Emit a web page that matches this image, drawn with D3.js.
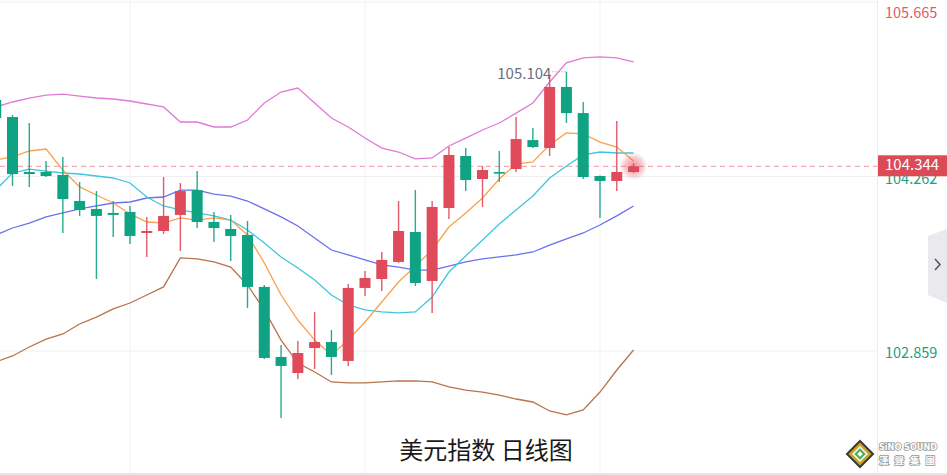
<!DOCTYPE html>
<html><head><meta charset="utf-8">
<script src="https://cdn.jsdelivr.net/npm/d3@7"></script>
<style>html,body{margin:0;padding:0;background:#fff;overflow:hidden}svg{display:block}</style>
</head><body><svg id="c" width="947" height="475"></svg>
<script>
// ---------- data (daily candles, index -8 .. 30) ----------
const days = d3.range(39);
const opens  = [104.877,104.740,104.298,104.298,104.274,104.065,104.001,103.969,103.977,103.808,103.824,103.953,104.153,103.896,103.840,103.792,103.374,102.811,102.682,102.883,102.931,102.779,103.366,103.438,103.575,103.816,103.422,104.009,104.427,104.242,104.298,104.322,104.555,104.491,104.982,104.772,104.266,104.226,104.298];
const highs  = [104.901,104.756,104.692,104.387,104.419,104.218,104.145,104.065,104.025,103.937,104.258,104.210,104.306,103.977,103.953,103.904,103.390,102.907,102.939,103.173,103.028,103.398,103.502,103.655,104.065,104.153,104.065,104.499,104.491,104.346,104.467,104.740,104.652,105.080,105.104,104.861,104.270,104.708,104.370];
const lows   = [104.700,104.186,104.178,104.258,103.808,103.945,103.438,103.776,103.719,103.615,103.800,103.663,103.848,103.735,103.583,103.205,102.795,102.320,102.634,102.714,102.666,102.739,103.301,103.341,103.567,103.382,103.165,103.921,104.145,104.017,104.218,104.298,104.491,104.427,104.692,104.242,103.929,104.145,104.290];
const closes = [104.732,104.282,104.282,104.266,104.081,103.993,103.945,103.953,103.784,103.824,103.945,104.145,103.896,103.848,103.784,103.374,102.803,102.739,102.843,102.931,102.811,103.366,103.446,103.591,103.824,103.406,104.017,104.435,104.234,104.314,104.290,104.563,104.499,104.982,104.772,104.258,104.226,104.298,104.344];
const bollUpper = [104.821,104.861,104.893,104.917,104.925,104.909,104.893,104.885,104.869,104.845,104.821,104.700,104.700,104.660,104.660,104.716,104.853,104.941,104.973,104.853,104.732,104.660,104.571,104.491,104.459,104.403,104.411,104.507,104.571,104.636,104.692,104.772,104.853,105.022,105.175,105.215,105.223,105.215,105.183];
const bollMid   = [103.792,103.848,103.888,103.937,103.969,104.001,104.025,104.049,104.057,104.089,104.097,104.153,104.153,104.121,104.105,104.065,104.001,103.937,103.864,103.768,103.671,103.631,103.591,103.551,103.534,103.510,103.510,103.542,103.575,103.599,103.615,103.631,103.655,103.711,103.760,103.808,103.872,103.945,104.025];
const bollLower = [102.771,102.819,102.891,102.955,102.996,103.076,103.132,103.197,103.245,103.309,103.374,103.607,103.599,103.575,103.534,103.390,103.189,102.947,102.762,102.690,102.610,102.602,102.602,102.610,102.618,102.618,102.610,102.570,102.545,102.529,102.505,102.473,102.449,102.377,102.345,102.385,102.529,102.706,102.867];
const ma5  = [104.395,104.419,104.467,104.483,104.314,104.178,104.113,104.049,103.961,103.896,103.888,103.929,103.912,103.929,103.912,103.792,103.567,103.309,103.108,102.947,102.827,102.947,103.092,103.253,103.414,103.542,103.671,103.856,103.969,104.089,104.242,104.362,104.379,104.515,104.612,104.604,104.539,104.499,104.387];
const ma10 = [104.153,104.290,104.322,104.306,104.290,104.282,104.266,104.250,104.210,104.097,104.025,103.993,103.969,103.945,103.912,103.832,103.727,103.615,103.526,103.430,103.309,103.229,103.189,103.173,103.165,103.173,103.293,103.494,103.623,103.751,103.880,103.993,104.105,104.250,104.346,104.435,104.459,104.451,104.451];
const axisTicks = [105.665, 104.262, 102.859];
const lastPrice = 104.344;
const peakLabel = "105.104";
const titleText = "美元指数 日线图";

// ---------- scales ----------
const W = 947, H = 475, plotRight = 877;
const x = d3.scaleLinear().domain([8, 22]).range([130, 365]);
const y = d3.scaleLinear().domain([102.859, 105.665]).range([351, 2]);
const svg = d3.select("#c");
const FONT = "'Noto Sans CJK SC','Noto Sans',sans-serif";
const RED = "#df4b5a", GREEN = "#0fa383";

// grid
const grid = svg.append("g");
[8, 22, 36].forEach(i => grid.append("line").attr("x1", x(i)).attr("x2", x(i)).attr("y1", 0).attr("y2", H)
  .attr("stroke", "#f2f2f5").attr("stroke-width", 1));
axisTicks.forEach(v => grid.append("line").attr("x1", 0).attr("x2", plotRight).attr("y1", y(v)).attr("y2", y(v))
  .attr("stroke", "#f0f0f3").attr("stroke-width", 1));
grid.append("line").attr("x1", plotRight + 0.5).attr("x2", plotRight + 0.5).attr("y1", 0).attr("y2", H)
  .attr("stroke", "#ebebf0");
grid.append("line").attr("x1", 0).attr("x2", W).attr("y1", 474).attr("y2", 474).attr("stroke", "#e6e6e6").attr("stroke-width", 2);

// last price dashed line
svg.append("line").attr("x1", 0).attr("x2", plotRight).attr("y1", y(lastPrice)).attr("y2", y(lastPrice))
  .attr("stroke", "#f3a9b0").attr("stroke-width", 1.2).attr("stroke-dasharray", "5,4");

// indicator lines
const lineGen = arr => d3.line().x((d, i) => x(i)).y(d => y(d))(arr);
const lines = [
  [bollUpper, "#e07ad6"], [bollLower, "#b8734a"], [bollMid, "#6a70f0"], [ma10, "#3ec6e0"], [ma5, "#f7a24f"]
];
lines.forEach(([arr, col]) => svg.append("path").attr("d", lineGen(arr)).attr("fill", "none")
  .attr("stroke", col).attr("stroke-width", 1.3));

// glow on last candle
const defs = svg.append("defs");
const rg = defs.append("radialGradient").attr("id", "glow");
rg.append("stop").attr("offset", "0%").attr("stop-color", "#e04b5a").attr("stop-opacity", 0.6);
rg.append("stop").attr("offset", "60%").attr("stop-color", "#e04b5a").attr("stop-opacity", 0.3);
rg.append("stop").attr("offset", "100%").attr("stop-color", "#e04b5a").attr("stop-opacity", 0);
svg.append("circle").attr("cx", x(38)).attr("cy", y(lastPrice)).attr("r", 14).attr("fill", "url(#glow)");

// candles
const cg = svg.append("g");
days.forEach(i => {
  const up = closes[i] >= opens[i];
  const col = up ? RED : GREEN;
  const cx = x(i);
  cg.append("line").attr("x1", cx).attr("x2", cx).attr("y1", y(highs[i])).attr("y2", y(lows[i]))
    .attr("stroke", col).attr("stroke-width", 1.4).attr("opacity", 0.9);
  const top = y(Math.max(opens[i], closes[i])), bot = y(Math.min(opens[i], closes[i]));
  cg.append("rect").attr("x", cx - 5.5).attr("width", 11).attr("y", top).attr("height", Math.max(1.6, bot - top))
    .attr("fill", col);
});

// peak label
const peakIdx = highs.indexOf(d3.max(highs));
svg.append("text").attr("x", x(peakIdx) - 15).attr("y", y(+peakLabel) + 3).attr("text-anchor", "end")
  .attr("dominant-baseline", "middle").attr("font-family", FONT).attr("font-size", 15).attr("fill", "#6b7080")
  .text(peakLabel);
svg.append("line").attr("x1", x(peakIdx) - 14).attr("x2", x(peakIdx)).attr("y1", y(+peakLabel)).attr("y2", y(+peakLabel))
  .attr("stroke", "#8a8e9a").attr("stroke-width", 1).attr("stroke-dasharray", "1,2");

// right axis labels
const tickCols = ["#e05a68", "#1aa086", "#1aa086"];
axisTicks.forEach((v, k) => svg.append("text").attr("x", 885).attr("y", Math.max(y(v) + 3.5, 14))
  .attr("dominant-baseline", "middle").attr("font-family", FONT).attr("font-size", 14.5)
  .attr("fill", tickCols[k]).text(v.toFixed(3)));

// last price box
svg.append("rect").attr("x", plotRight + 1).attr("y", y(lastPrice) - 11).attr("width", W - plotRight).attr("height", 21)
  .attr("fill", "#dc4a58");
svg.append("text").attr("x", 885).attr("y", y(lastPrice)).attr("dominant-baseline", "middle")
  .attr("font-family", FONT).attr("font-size", 15).attr("fill", "#fff").text(lastPrice.toFixed(3));

// side tab
svg.append("path").attr("d", "M947,229 L928,236 L928,295 L947,303 Z").attr("fill", "#e9e9ee");
svg.append("path").attr("d", "M935,259 L940,264.5 L935,270").attr("fill", "none").attr("stroke", "#555a66").attr("stroke-width", 1.6);

// title
svg.append("text").attr("x", 486).attr("y", 452).attr("text-anchor", "middle").attr("dominant-baseline", "middle")
  .attr("font-family", FONT).attr("font-size", 24).attr("fill", "#1a1a1a").text(titleText);

// logo
const lg = svg.append("g").attr("transform", "translate(860,454)");
lg.append("path").attr("d", "M0,-13 L13,0 L0,13 L-13,0 Z").attr("fill", "#c9a227");
lg.append("path").attr("d", "M0,-13 L13,0 L0,13 L-13,0 Z").attr("fill", "none").attr("stroke", "#3a3a3a").attr("stroke-width", 2);
lg.append("path").attr("d", "M0,-8 L8,0 L0,8 L-8,0 Z").attr("fill", "#f5f5f0");
lg.append("rect").attr("x", -4).attr("y", -4).attr("width", 8).attr("height", 8).attr("transform", "rotate(45)").attr("fill", "#4caf50");
lg.append("rect").attr("x", -2).attr("y", -2).attr("width", 4).attr("height", 4).attr("transform", "rotate(45)").attr("fill", "#fff");
svg.append("text").attr("x", 879).attr("y", 450).attr("font-family", "'DejaVu Sans',sans-serif").attr("font-weight", "bold")
  .attr("font-size", 8.2).attr("textLength", 58).attr("fill", "#fff").attr("stroke", "#9a9a9a").attr("stroke-width", 1.6).attr("paint-order", "stroke")
  .text("SiNO SOUND");
svg.append("text").attr("x", 879).attr("y", 464).attr("font-family", FONT).attr("font-weight", "bold")
  .attr("font-size", 9.5).attr("textLength", 56).attr("fill", "#fff").attr("stroke", "#9a9a9a").attr("stroke-width", 1.6)
  .attr("paint-order", "stroke").text("漢聲集團");
</script></body></html>
